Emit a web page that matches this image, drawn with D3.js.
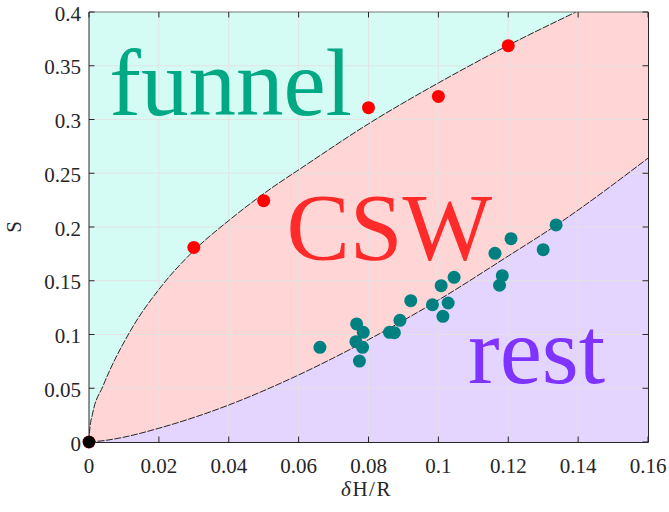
<!DOCTYPE html>
<html><head><meta charset="utf-8">
<script src="https://cdn.jsdelivr.net/npm/d3@7"></script>
<style>body{margin:0;background:#fff}svg{display:block}</style>
</head><body>
<svg id="c" width="669" height="512"></svg>
<script>
// ---- data ----
const xTicks = [0, 0.02, 0.04, 0.06, 0.08, 0.1, 0.12, 0.14, 0.16];
const yTicks = [0, 0.05, 0.1, 0.15, 0.2, 0.25, 0.3, 0.35, 0.4];
const xTickLabels = ["0", "0.02", "0.04", "0.06", "0.08", "0.1", "0.12", "0.14", "0.16"];
const yTickLabels = ["0", "0.05", "0.1", "0.15", "0.2", "0.25", "0.3", "0.35", "0.4"];

// upper boundary (funnel / CSW)
const upperX = [0, 0.0002, 0.001, 0.004, 0.0116, 0.021, 0.03, 0.04, 0.05, 0.0627, 0.08, 0.1, 0.12, 0.1394];
const upperS = [0, 0.011, 0.026, 0.052, 0.102, 0.146, 0.178, 0.206, 0.231, 0.259, 0.296, 0.334, 0.369, 0.4];
// lower boundary (CSW / rest)
const lowerX = [0, 0.005, 0.01, 0.02, 0.04, 0.0573, 0.08, 0.1, 0.12, 0.1337, 0.16];
const lowerS = [0, 0.0016, 0.0045, 0.0128, 0.0344, 0.0583, 0.0952, 0.132, 0.173, 0.2016, 0.264];

// red points
const redX = [0, 0.03, 0.05, 0.08, 0.1, 0.12];
const redS = [0, 0.181, 0.2245, 0.311, 0.3215, 0.3687];
// black point
const blackX = [0];
const blackS = [0];
// teal points
const tealX = [0.0661, 0.0766, 0.0785, 0.0764, 0.0783, 0.0774, 0.0860, 0.0874, 0.0890, 0.0921, 0.0983,
               0.1008, 0.1045, 0.1028, 0.1013, 0.1162, 0.1208, 0.1183, 0.1175, 0.1300, 0.1337];
const tealS = [0.0881, 0.1098, 0.1020, 0.0933, 0.0881, 0.0753, 0.1020, 0.1017, 0.1132, 0.1315, 0.1277,
               0.1454, 0.1532, 0.1293, 0.1169, 0.1755, 0.1891, 0.1547, 0.1458, 0.1789, 0.2019];

// region labels
const labelText = ["funnel", "CSW", "rest"];
const labelX = [0.0058, 0.0565, 0.1085];
const labelS = [0.304, 0.169, 0.055];

// ---- layout ----
const W = 669, H = 512;
const m = {l: 89, t: 12, r: 21, b: 70};
const pw = W - m.l - m.r, ph = H - m.t - m.b;
const svg = d3.select("#c");
const g = svg.append("g").attr("transform", `translate(${m.l},${m.t})`);
const x = d3.scaleLinear().domain([0, 0.16]).range([0, pw]);
const y = d3.scaleLinear().domain([0, 0.4]).range([ph, 0]);

const FONT = "'Liberation Serif','Times New Roman',serif";
const axisColor = "#262626";

g.append("defs").append("clipPath").attr("id", "clip")
  .append("rect").attr("width", pw).attr("height", ph);
const pg = g.append("g").attr("clip-path", "url(#clip)");

// background (funnel region)
pg.append("rect").attr("width", pw).attr("height", ph).attr("fill", "#d4fcf4");

const upper = upperX.map((v, i) => [v, upperS[i]]);
const lower = lowerX.map((v, i) => [v, lowerS[i]]);
const lineGen = d3.line().x(d => x(d[0])).y(d => y(d[1])).curve(d3.curveMonotoneX);

// CSW region: under upper curve, extended to the right edge
const upPath = lineGen(upper);
pg.append("path")
  .attr("d", upPath + `L${x(0.16)},${y(0.4)}L${x(0.16)},${y(0)}L${x(0)},${y(0)}Z`)
  .attr("fill", "#ffd5d5");
// rest region: under lower curve
const loPath = lineGen(lower);
pg.append("path")
  .attr("d", loPath + `L${x(0.16)},${y(0)}L${x(0)},${y(0)}Z`)
  .attr("fill", "#e3d5ff");

// grid
pg.append("g").selectAll("line").data(xTicks.slice(1, -1)).join("line")
  .attr("x1", d => x(d)).attr("x2", d => x(d)).attr("y1", 0).attr("y2", ph)
  .attr("stroke", "#e3e3e3").attr("stroke-width", 1).attr("opacity", 0.9);
pg.append("g").selectAll("line").data(yTicks.slice(1, -1)).join("line")
  .attr("y1", d => y(d)).attr("y2", d => y(d)).attr("x1", 0).attr("x2", pw)
  .attr("stroke", "#e3e3e3").attr("stroke-width", 1).attr("opacity", 0.9);

// boundary curves
pg.append("path").attr("d", upPath).attr("fill", "none").attr("stroke", "#111")
  .attr("stroke-width", 0.9).attr("stroke-dasharray", "7,1.5");
pg.append("path").attr("d", loPath).attr("fill", "none").attr("stroke", "#111")
  .attr("stroke-width", 0.9).attr("stroke-dasharray", "7,1.5");

// region labels
const labelColors = ["#00a884", "#ff2b2b", "#7f33ff"];
g.append("g").selectAll("text").data(labelText).join("text")
  .attr("x", (d, i) => x(labelX[i])).attr("y", (d, i) => y(labelS[i]))
  .attr("fill", (d, i) => labelColors[i])
  .attr("font-family", FONT).attr("font-size", 95)
  .text(d => d);

// axes frame
const axG = g.append("g").attr("fill", "none").attr("stroke", axisColor).attr("stroke-width", 1);
axG.append("line").attr("x1", 0).attr("x2", 0).attr("y1", 0).attr("y2", ph + 0.5);
axG.append("line").attr("x1", 0).attr("x2", pw + 0.5).attr("y1", ph + 0.5).attr("y2", ph + 0.5);
axG.append("line").attr("x1", pw + 0.5).attr("x2", pw + 0.5).attr("y1", 0).attr("y2", ph + 0.5);
axG.append("line").attr("x1", 0).attr("x2", pw + 0.5).attr("y1", 0).attr("y2", 0).attr("stroke", "#777");

// ticks (inward, all four sides)
const tl = 5.5;
xTicks.forEach(t => {
  axG.append("line").attr("x1", x(t)).attr("x2", x(t)).attr("y1", ph).attr("y2", ph - tl);
  axG.append("line").attr("x1", x(t)).attr("x2", x(t)).attr("y1", 0).attr("y2", tl);
});
yTicks.forEach(t => {
  axG.append("line").attr("x1", 0).attr("x2", tl).attr("y1", y(t)).attr("y2", y(t));
  axG.append("line").attr("x1", pw).attr("x2", pw - tl).attr("y1", y(t)).attr("y2", y(t));
});

// tick labels
g.append("g").selectAll("text").data(xTicks).join("text")
  .attr("x", d => x(d)).attr("y", ph + 30.5)
  .attr("text-anchor", "middle").attr("font-family", FONT).attr("font-size", 21)
  .attr("fill", axisColor).text((d, i) => xTickLabels[i]);
g.append("g").selectAll("text").data(yTicks).join("text")
  .attr("x", -8).attr("y", d => y(d) + 8.7)
  .attr("text-anchor", "end").attr("font-family", FONT).attr("font-size", 21)
  .attr("fill", axisColor).text((d, i) => yTickLabels[i]);

// axis titles
const xl = g.append("text").attr("x", pw / 2 - 2).attr("y", ph + 54)
  .attr("text-anchor", "middle").attr("font-family", FONT).attr("font-size", 21)
  .attr("letter-spacing", 1.5).attr("fill", axisColor);
xl.append("tspan").attr("font-style", "italic").text("δ");
xl.append("tspan").text("H/R");
g.append("text").attr("transform", `translate(${-68},${ph / 2}) rotate(-90)`)
  .attr("text-anchor", "middle").attr("font-family", FONT).attr("font-size", 21)
  .attr("fill", axisColor).text("S");

// points
const pts = g.append("g");
pts.selectAll(".r").data(redX).join("circle").attr("class", "r")
  .attr("cx", d => x(d)).attr("cy", (d, i) => y(redS[i])).attr("r", 6.5).attr("fill", "#ff0000");
pts.selectAll(".t").data(tealX).join("circle").attr("class", "t")
  .attr("cx", d => x(d)).attr("cy", (d, i) => y(tealS[i])).attr("r", 6.5).attr("fill", "#008080");
pts.selectAll(".k").data(blackX).join("circle").attr("class", "k")
  .attr("cx", d => x(d)).attr("cy", (d, i) => y(blackS[i])).attr("r", 6.2).attr("fill", "#000");
</script>
</body></html>
